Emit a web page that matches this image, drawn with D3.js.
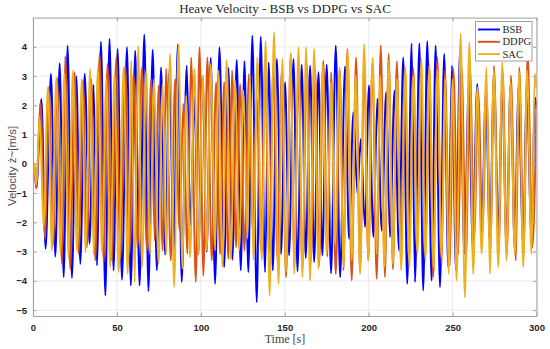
<!DOCTYPE html>
<html><head><meta charset="utf-8">
<script src="https://cdn.jsdelivr.net/npm/d3@7"></script>
<style>body{margin:0;background:#fff}svg{display:block}</style>
</head><body><svg id="c" width="550" height="349"></svg>
<script>
const seriesNames = ["BSB", "DDPG", "SAC"];
const seriesColors = ["#0000FF", "#D95319", "#EDB120"];
const xTicks = [0, 50, 100, 150, 200, 250, 300];
const yTicks = [-5, -4, -3, -2, -1, 0, 1, 2, 3, 4];

// BSB: times [s] of samples (start, extrema, end) and heave velocity [m/s]
const bsbT = [0, 0.6, 2.0, 5.0, 7.5, 10.7, 13.3, 15.9, 18.3, 20.6, 23.2, 25.8, 28.2, 30.8, 33.7, 36.1, 38.1, 40.5, 43.1, 45.6, 48.0, 50.4, 53.0, 56.0, 58.3, 60.9, 63.5, 66.3, 68.8, 71.3, 73.8, 76.3, 78.7, 81.3, 83.8, 86.3, 88.6, 91.6, 93.8, 96.2, 98.5, 101.0, 103.5, 105.9, 108.5, 111.1, 113.9, 116.4, 118.8, 121.4, 123.8, 126.0, 128.3, 130.7, 133.3, 135.7, 138.3, 140.4, 142.9, 145.3, 147.8, 150.2, 152.6, 155.2, 157.6, 160.1, 162.5, 165.1, 167.5, 170.1, 172.4, 175.0, 177.6, 180.4, 183.0, 185.9, 188.3, 190.9, 193.3, 195.3, 197.8, 200.2, 202.8, 205.2, 207.8, 210.4, 212.7, 215.4, 218.1, 220.6, 223.0, 225.6, 227.6, 230.2, 232.5, 234.9, 237.5, 239.9, 242.5, 245.0, 247.4, 249.6, 252.0, 254.4, 257.0, 259.7, 261.9, 264.7, 267.3, 269.8, 272.2, 274.6, 277.2, 279.6, 282.1, 284.5, 287.1, 289.1, 292.1, 294.1, 297.0, 299.0, 300];
const bsbV = [0, 0, -0.83, 2.22, -2.9, 3.08, -3.17, 3.44, -3.87, 4.04, -3.9, 3.0, -3.42, 3.08, -2.73, 2.7, -3.47, 4.18, -4.5, 4.27, -3.64, 3.93, -3.96, 3.99, -4.16, 3.87, -4.16, 4.42, -4.35, 3.9, -3.64, 3.3, -3.1, 3.2, -3.0, 4.08, -4.04, 3.36, -2.1, 2.28, -3.1, 3.0, -3.0, 3.62, -4.1, 3.99, -3.53, 3.28, -3.28, 3.55, -3.64, 3.51, -3.7, 4.38, -4.73, 4.35, -3.7, 3.47, -3.64, 3.59, -3.08, 2.79, -3.13, 3.59, -3.67, 3.39, -3.22, 3.36, -3.36, 3.13, -3.13, 3.39, -3.74, 4.04, -3.87, 3.33, -2.56, 1.77, -1.0, 0.85, -2.16, 2.68, -2.5, 2.22, -2.28, 2.45, -2.5, 2.5, -2.96, 3.64, -4.1, 4.12, -4.04, 4.12, -4.33, 4.19, -3.99, 4.04, -4.21, 3.76, -3.53, 3.36, -3.64, 3.87, -3.08, 2.73, -2.96, 2.73, -2.39, 2.45, -2.68, 3.02, -2.28, 2.73, -2.85, 2.68, -2.96, 2.62, -2.85, 2.73, -2.5, 2.28, 1.9];

// DDPG
const ddpgT = [0, 0.6, 2.0, 4.4, 7.3, 9.3, 12.3, 14.3, 17.3, 19.2, 22.2, 24.8, 27.2, 29.8, 32.1, 34.7, 37.1, 39.7, 42.1, 44.4, 47.0, 49.6, 52.0, 55.0, 57.3, 59.9, 62.3, 64.9, 67.9, 70.4, 72.5, 74.8, 77.3, 79.3, 82.1, 84.7, 87.3, 89.6, 92.0, 94.2, 97.0, 99.2, 101.5, 103.9, 106.5, 109.1, 111.5, 113.9, 116.4, 118.6, 121.0, 123.4, 126.0, 128.7, 130.9, 133.3, 135.9, 138.3, 140.6, 143.2, 145.7, 148.2, 150.8, 153.6, 155.6, 158.2, 160.5, 163.1, 165.5, 168.1, 170.5, 173.0, 175.4, 177.6, 180.4, 183.0, 185.0, 187.3, 189.9, 192.5, 194.9, 197.3, 199.8, 202.2, 204.8, 207.2, 209.7, 211.9, 214.5, 216.8, 219.2, 221.6, 224.0, 226.6, 229.0, 231.2, 233.9, 236.1, 238.5, 240.9, 243.5, 245.4, 248.4, 250.4, 253.4, 255.4, 258.0, 260.3, 262.9, 265.3, 267.9, 270.2, 272.8, 274.6, 277.6, 279.8, 282.5, 284.7, 287.7, 289.7, 292.5, 294.6, 297.6, 300];
const ddpgV = [0, 0, -0.85, 2.1, -2.56, 2.62, -2.73, 2.94, -3.42, 3.68, -3.59, 3.13, -3.08, 2.85, -2.85, 2.9, -3.3, 3.76, -3.36, 3.42, -3.3, 3.64, -3.25, 3.36, -3.08, 3.07, -2.85, 3.3, -2.96, 2.9, -2.62, 2.68, -2.96, 3.25, -3.3, 2.9, -2.28, 2.05, -3.08, 3.64, -4.04, 3.99, -3.82, 3.64, -3.3, 2.79, -3.08, 2.79, -3.25, 3.19, -2.85, 2.73, -2.96, 3.07, -2.39, 2.28, -2.96, 3.53, -3.08, 3.3, -3.3, 3.19, -3.87, 3.78, -3.59, 3.19, -3.64, 3.42, -3.36, 3.25, -3.47, 3.53, -3.17, 3.13, -3.76, 3.19, -3.64, 3.93, -3.99, 3.64, -3.7, 3.36, -3.3, 3.42, -3.93, 4.04, -3.87, 3.76, -3.6, 3.5, -3.3, 3.3, -3.25, 3.25, -2.96, 2.73, -3.08, 3.36, -3.87, 3.64, -3.42, 3.19, -3.47, 3.25, -3.08, 3.3, -3.25, 3.36, -2.5, 2.45, -2.39, 2.33, -2.85, 3.36, -3.08, 3.19, -3.08, 3.02, -3.3, 3.3, -3.08, 3.9, -2.85, 2.2];

// SAC
const sacT = [0, 0.6, 2.0, 4.0, 6.3, 8.9, 11.3, 13.9, 16.3, 18.7, 21.2, 23.8, 26.2, 29.2, 31.2, 34.1, 36.1, 38.7, 41.1, 43.7, 46.0, 48.6, 51.0, 54.0, 56.4, 58.6, 60.6, 62.6, 65.0, 67.4, 69.8, 72.0, 74.8, 77.3, 79.3, 81.7, 84.1, 86.7, 89.0, 91.2, 93.6, 96.2, 98.6, 101.2, 103.5, 105.9, 108.5, 110.5, 112.9, 115.4, 117.8, 120.4, 122.8, 125.4, 127.7, 129.3, 131.3, 133.7, 136.3, 138.6, 141.0, 143.6, 146.3, 148.6, 150.8, 153.6, 155.6, 158.2, 160.5, 162.7, 165.1, 167.5, 170.1, 172.6, 175.0, 177.6, 180.0, 182.6, 185.0, 187.5, 189.9, 192.3, 194.9, 197.3, 199.8, 202.4, 204.8, 206.8, 209.4, 211.9, 214.4, 216.9, 219.4, 221.8, 224.2, 226.6, 229.0, 231.4, 233.8, 236.2, 238.6, 241.0, 243.4, 245.6, 247.6, 250.0, 252.4, 254.8, 257.3, 260.0, 262.3, 264.7, 267.3, 270.2, 272.2, 274.6, 277.2, 279.6, 282.1, 284.5, 287.1, 289.7, 292.1, 294.4, 297.0, 299.0, 300];
const sacV = [0, 0, -0.7, 1.6, -2.16, 2.62, -2.96, 2.96, -3.02, 3.08, -3.19, 3.19, -2.96, 2.9, -3.02, 3.25, -3.08, 3.3, -3.02, 2.9, -3.53, 3.08, -3.7, 3.3, -3.76, 3.53, -4.04, 4.04, -3.53, 3.19, -3.08, 2.9, -3.42, 2.73, -3.08, 3.76, -4.21, 4.1, -3.59, 2.33, -3.19, 3.25, -3.08, 3.02, -2.96, 3.42, -2.96, 3.19, -3.53, 3.55, -3.25, 2.85, -2.96, 2.5, -2.56, 3.02, -3.28, 3.64, -3.3, 4.19, -4.5, 4.5, -4.1, 3.59, -3.7, 3.76, -3.76, 3.99, -3.87, 3.99, -3.99, 3.93, -3.59, 3.42, -3.08, 2.79, -2.73, 3.3, -3.53, 3.87, -3.3, 3.02, -3.76, 4.08, -3.3, 3.64, -3.08, 3.02, -3.53, 3.53, -3.42, 2.9, -3.64, 3.3, -3.53, 3.0, -3.08, 3.6, -3.3, 3.4, -3.53, 3.2, -3.19, 2.9, -3.76, 2.9, -3.99, 4.44, -4.56, 4.16, -3.76, 2.62, -3.08, 3.3, -3.76, 3.19, -3.53, 3.47, -3.3, 2.79, -3.08, 3.13, -3.53, 3.19, -3.08, 3.08, 2.6];

const seriesT = [bsbT, ddpgT, sacT];
const seriesV = [bsbV, ddpgV, sacV];

const svg = d3.select("#c");
const x = d3.scaleLinear().domain([0, 300]).range([33, 536.5]);
const y = d3.scaleLinear().domain([-5.2, 5]).range([316, 17.6]);
const [x0, x1] = x.range(), [y0, y1] = y.range();

svg.append("rect").attr("width", 550).attr("height", 349).attr("fill", "#fff");
svg.append("rect").attr("x", x0).attr("y", y1).attr("width", x1 - x0).attr("height", y0 - y1).attr("fill", "#fff");

// grid
const grid = svg.append("g").attr("stroke", "#e6e6e6").attr("stroke-width", 0.8);
grid.selectAll("line.v").data(xTicks).join("line")
  .attr("x1", d => x(d)).attr("x2", d => x(d)).attr("y1", y0).attr("y2", y1);
grid.selectAll("line.h").data(yTicks).join("line")
  .attr("y1", d => y(d)).attr("y2", d => y(d)).attr("x1", x0).attr("x2", x1);

// series
const clip = svg.append("clipPath").attr("id", "clp").append("rect")
  .attr("x", x0).attr("y", y1).attr("width", x1 - x0).attr("height", y0 - y1);
const line = d3.line().x(d => x(d[0])).y(d => y(d[1])).curve(d3.curveMonotoneX);
const lg = svg.append("g").attr("clip-path", "url(#clp)");
seriesNames.forEach((n, i) => {
  const pts = seriesT[i].map((t, k) => [t, seriesV[i][k]]);
  lg.append("path").attr("d", line(pts)).attr("fill", "none")
    .attr("stroke", seriesColors[i]).attr("stroke-width", 1.9).attr("stroke-linejoin", "round");
});

// axes (ticks inward, box)
const axCol = "#a0a0a0";
const fmt = d => d < 0 ? "\u2212" + Math.abs(d) : String(d);
const xb = svg.append("g").attr("transform", `translate(0,${y0})`)
  .call(d3.axisBottom(x).tickValues(xTicks).tickSizeInner(-3.5).tickSizeOuter(0).tickPadding(8).tickFormat(fmt));
const yl = svg.append("g").attr("transform", `translate(${x0},0)`)
  .call(d3.axisLeft(y).tickValues(yTicks).tickSizeInner(-3.5).tickSizeOuter(0).tickPadding(6).tickFormat(fmt));
const xt = svg.append("g").attr("transform", `translate(0,${y1})`)
  .call(d3.axisTop(x).tickValues(xTicks).tickSizeInner(-3.5).tickSizeOuter(0).tickFormat(""));
const yr = svg.append("g").attr("transform", `translate(${x1},0)`)
  .call(d3.axisRight(y).tickValues(yTicks).tickSizeInner(-3.5).tickSizeOuter(0).tickFormat(""));
[xb, yl, xt, yr].forEach(g => {
  g.select(".domain").attr("stroke", axCol).attr("stroke-width", 1);
  g.selectAll(".tick line").attr("stroke", axCol);
  g.selectAll(".tick text").attr("fill", "#262626")
    .style("font-family", "'Liberation Sans', Arial, sans-serif").style("font-size", "9.5px").style("font-weight", "bold");
});

// title & labels
svg.append("text").attr("x", 285).attr("y", 13).attr("text-anchor", "middle")
  .style("font-family", "'Liberation Serif', 'Times New Roman', serif").style("font-size", "13px").attr("fill", "#262626")
  .text("Heave Velocity - BSB vs DDPG vs SAC");
svg.append("text").attr("x", 285).attr("y", 343).attr("text-anchor", "middle")
  .style("font-family", "'Liberation Serif', 'Times New Roman', serif").style("font-size", "12px").attr("fill", "#404040")
  .text("Time [s]");
svg.append("text").attr("transform", "translate(16,166) rotate(-90)").attr("text-anchor", "middle")
  .style("font-family", "'Liberation Sans', Arial, sans-serif").style("font-size", "11.5px").attr("fill", "#505050")
  .text("Velocity \u017C~[m/s]");

// legend
const leg = svg.append("g");
leg.append("rect").attr("x", 475.5).attr("y", 21.5).attr("width", 56.5).attr("height", 39.5)
  .attr("fill", "#fff").attr("stroke", "#a0a0a0").attr("stroke-width", 1);
seriesNames.forEach((n, i) => {
  const yy = 29.5 + i * 12.3;
  leg.append("line").attr("x1", 478).attr("x2", 500).attr("y1", yy).attr("y2", yy)
    .attr("stroke", seriesColors[i]).attr("stroke-width", 1.9);
  leg.append("text").attr("x", 502.5).attr("y", yy + 3.6)
    .style("font-family", "'Liberation Serif', 'Times New Roman', serif").style("font-size", "10.5px").attr("fill", "#262626")
    .text(n);
});
</script></body></html>
